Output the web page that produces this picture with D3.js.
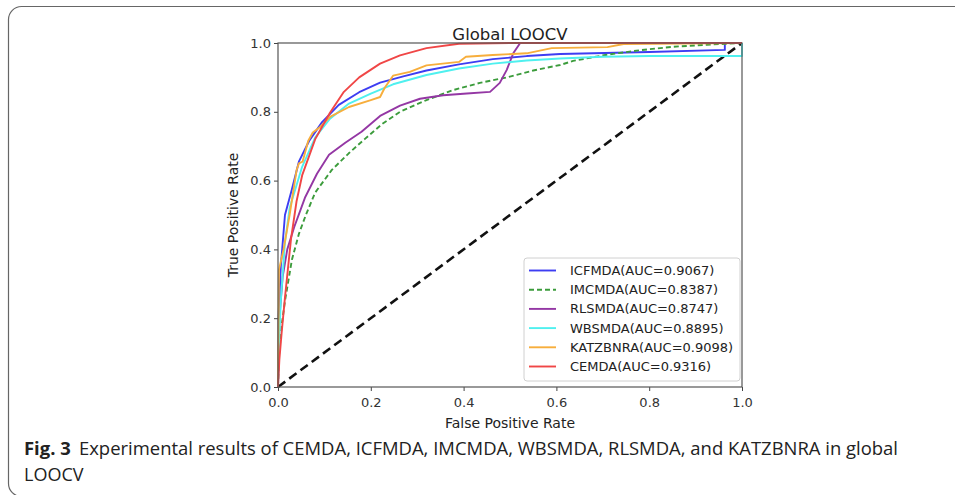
<!DOCTYPE html>
<html>
<head>
<meta charset="utf-8">
<script src="https://cdn.jsdelivr.net/npm/d3@7"></script>
<style>
  body { margin: 0; background: #fff; }
  svg { display: block; }
</style>
</head>
<body>
<script>
// ROC points: [false positive rate, true positive rate]
var icfmda = [[0,0],[0.001,0.2],[0.006,0.35],[0.015,0.5],[0.03,0.575],[0.045,0.655],[0.067,0.715],[0.095,0.77],[0.131,0.82],[0.175,0.857],[0.22,0.885],[0.27,0.903],[0.32,0.92],[0.39,0.938],[0.463,0.953],[0.536,0.962],[0.608,0.968],[0.8,0.974],[0.963,0.98],[0.963,1.0],[1,1]];
var imcmda = [[0,0],[0.002,0.09],[0.008,0.18],[0.015,0.25],[0.03,0.37],[0.045,0.445],[0.06,0.5],[0.08,0.565],[0.116,0.631],[0.153,0.68],[0.188,0.722],[0.224,0.764],[0.263,0.8],[0.32,0.834],[0.377,0.863],[0.435,0.884],[0.493,0.9],[0.55,0.92],[0.608,0.936],[0.636,0.948],[0.709,0.966],[0.78,0.979],[0.851,0.989],[0.924,0.995],[1,1]];
var rlsmda = [[0,0],[0.003,0.2],[0.01,0.32],[0.02,0.4],[0.035,0.465],[0.058,0.55],[0.084,0.62],[0.11,0.675],[0.145,0.71],[0.18,0.742],[0.22,0.788],[0.263,0.818],[0.306,0.838],[0.356,0.848],[0.407,0.853],[0.457,0.858],[0.478,0.884],[0.493,0.922],[0.507,0.97],[0.522,1.0],[1,1]];
var wbsmda = [[0,0],[0.002,0.12],[0.006,0.25],[0.015,0.42],[0.025,0.52],[0.052,0.64],[0.08,0.725],[0.112,0.78],[0.153,0.824],[0.2,0.853],[0.248,0.88],[0.32,0.907],[0.39,0.926],[0.463,0.94],[0.536,0.949],[0.608,0.955],[0.7,0.96],[0.8,0.962],[1,0.962],[1,1]];
var katzbnra = [[0,0],[0.002,0.34],[0.012,0.40],[0.025,0.5],[0.04,0.63],[0.045,0.65],[0.053,0.655],[0.065,0.715],[0.075,0.74],[0.09,0.755],[0.112,0.785],[0.153,0.814],[0.2,0.834],[0.22,0.843],[0.23,0.87],[0.248,0.905],[0.284,0.916],[0.32,0.935],[0.39,0.945],[0.405,0.96],[0.463,0.965],[0.536,0.97],[0.59,0.985],[0.71,0.988],[0.745,0.997],[1,1]];
var cemda = [[0,0],[0.003,0.08],[0.008,0.16],[0.015,0.26],[0.028,0.43],[0.04,0.54],[0.052,0.615],[0.08,0.72],[0.112,0.797],[0.142,0.858],[0.175,0.9],[0.22,0.94],[0.263,0.964],[0.32,0.985],[0.39,0.998],[0.5,1],[1,1]];

var seriesNames = ["ICFMDA(AUC=0.9067)", "IMCMDA(AUC=0.8387)", "RLSMDA(AUC=0.8747)", "WBSMDA(AUC=0.8895)", "KATZBNRA(AUC=0.9098)", "CEMDA(AUC=0.9316)"];
var seriesData = [icfmda, imcmda, rlsmda, wbsmda, katzbnra, cemda];
var seriesColors = ["#3d3df2", "#3c9c3c", "#9437a4", "#4ff0ef", "#f7ae3c", "#f04646"];
var seriesDash = [null, "5,3", null, null, null, null];
var tickValues = [0, 0.2, 0.4, 0.6, 0.8, 1.0];

var width = 955, height = 495;
var plotLeft = 278, plotRight = 742, plotTop = 43, plotBottom = 387;

var svg = d3.select("body").append("svg")
    .attr("width", width)
    .attr("height", height);

// rounded frame of the figure panel
svg.append("rect")
    .attr("x", 8.5).attr("y", 6.5)
    .attr("width", 1000).attr("height", 490)
    .attr("rx", 13)
    .style("fill", "none")
    .style("stroke", "#666")
    .style("stroke-width", 1.2);

var x = d3.scaleLinear().domain([0, 1]).range([plotLeft, plotRight]);
var y = d3.scaleLinear().domain([0, 1]).range([plotBottom, plotTop]);

var line = d3.line()
    .x(function(d) { return x(d[0]); })
    .y(function(d) { return y(d[1]); });

var plot = svg.append("g");

// chance diagonal
plot.append("path")
    .datum([[0, 0], [1, 1]])
    .attr("d", line)
    .style("fill", "none")
    .style("stroke", "#111")
    .style("stroke-width", 2.6)
    .style("stroke-dasharray", "9,5");

seriesData.forEach(function(pts, i) {
  plot.append("path")
      .datum(pts)
      .attr("d", line)
      .style("fill", "none")
      .style("stroke", seriesColors[i])
      .style("stroke-width", 1.9)
      .style("stroke-dasharray", seriesDash[i])
      .style("stroke-linejoin", "round");
});

// axes
var fmt = d3.format(".1f");
var xAxis = svg.append("g")
    .attr("transform", "translate(0," + plotBottom + ")")
    .call(d3.axisBottom(x).tickValues(tickValues).tickFormat(fmt).tickSize(4).tickSizeOuter(0));
var yAxis = svg.append("g")
    .attr("transform", "translate(" + plotLeft + ",0)")
    .call(d3.axisLeft(y).tickValues(tickValues).tickFormat(fmt).tickSize(4).tickSizeOuter(0));

[xAxis, yAxis].forEach(function(a) {
  a.select(".domain").remove();
  a.selectAll("line").style("stroke", "#444").style("stroke-width", 1);
  a.selectAll("text")
      .style("font-family", "DejaVu Sans")
      .style("font-size", "13px")
      .style("fill", "#333");
});
xAxis.selectAll("text").attr("dy", "1.0em");

// spines
svg.append("rect")
    .attr("x", plotLeft).attr("y", plotTop)
    .attr("width", plotRight - plotLeft).attr("height", plotBottom - plotTop)
    .style("fill", "none")
    .style("stroke", "#555")
    .style("stroke-width", 1.2);

// titles
svg.append("text")
    .attr("x", (plotLeft + plotRight) / 2).attr("y", 40)
    .attr("text-anchor", "middle")
    .style("font-family", "DejaVu Sans").style("font-size", "16.5px").style("fill", "#222")
    .text("Global LOOCV");

svg.append("text")
    .attr("x", (plotLeft + plotRight) / 2).attr("y", 428)
    .attr("text-anchor", "middle")
    .style("font-family", "DejaVu Sans").style("font-size", "14px").style("fill", "#222")
    .text("False Positive Rate");

svg.append("text")
    .attr("transform", "translate(238," + ((plotTop + plotBottom) / 2) + ") rotate(-90)")
    .attr("text-anchor", "middle")
    .style("font-family", "DejaVu Sans").style("font-size", "14px").style("fill", "#222")
    .text("True Positive Rate");

// legend
var legend = svg.append("g").attr("transform", "translate(524,258)");
legend.append("rect")
    .attr("width", 216).attr("height", 123).attr("rx", 3)
    .style("fill", "#fff").style("fill-opacity", 0.85)
    .style("stroke", "#d0d0d0");

var item = legend.selectAll("g.item")
    .data(seriesNames)
    .enter().append("g")
    .attr("class", "item")
    .attr("transform", function(d, i) { return "translate(0," + (12.5 + i * 19.2) + ")"; });

item.append("line")
    .attr("x1", 5).attr("x2", 32)
    .style("stroke", function(d, i) { return seriesColors[i]; })
    .style("stroke-width", 1.9)
    .style("stroke-dasharray", function(d, i) { return seriesDash[i]; });

item.append("text")
    .attr("x", 46).attr("dy", "0.35em")
    .style("font-family", "DejaVu Sans").style("font-size", "13px").style("fill", "#222")
    .text(function(d) { return d; });

// caption
var cap = svg.append("text")
    .attr("x", 24).attr("y", 455)
    .attr("textLength", 874)
    .attr("lengthAdjust", "spacingAndGlyphs")
    .style("font-family", "Open Sans").style("font-size", "18px").style("fill", "#222");
cap.append("tspan").style("font-weight", "bold").text("Fig. 3");
cap.append("tspan").attr("dx", 8).text("Experimental results of CEMDA, ICFMDA, IMCMDA, WBSMDA, RLSMDA, and KATZBNRA in global");

svg.append("text")
    .attr("x", 24).attr("y", 481)
    .style("font-family", "Open Sans").style("font-size", "18px").style("fill", "#222")
    .text("LOOCV");
</script>
</body>
</html>
